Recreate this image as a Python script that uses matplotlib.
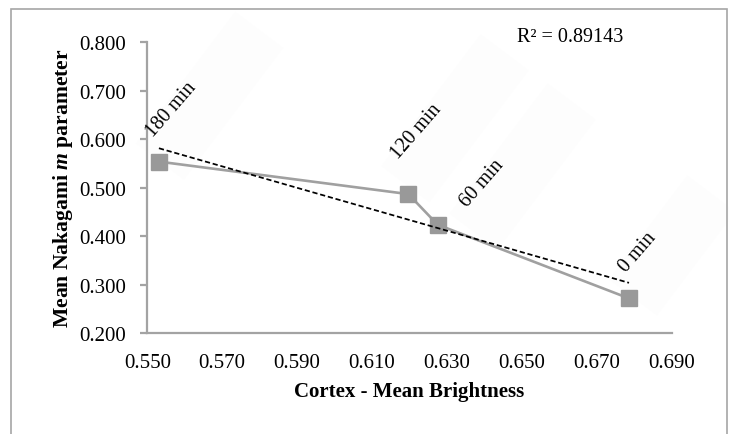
import numpy as np
import matplotlib
matplotlib.use("Agg")
import matplotlib.pyplot as plt
from matplotlib.patches import Polygon, Rectangle
from matplotlib.transforms import IdentityTransform

# Mean cortex brightness vs. mean Nakagami m parameter at each time point
brightness = [0.5531, 0.6197, 0.6275, 0.6786]
nakagami_m = [0.554, 0.487, 0.424, 0.272]
time_labels = ["180 min", "120 min", "60 min", "0 min"]
r2_text = "R\u00b2 = 0.89143"

x_ticks = [0.550, 0.570, 0.590, 0.610, 0.630, 0.650, 0.670, 0.690]
y_ticks = [0.200, 0.300, 0.400, 0.500, 0.600, 0.700, 0.800]

plt.rcParams["font.family"] = ["Liberation Serif", "DejaVu Serif"]
plt.rcParams["mathtext.fontset"] = "custom"
plt.rcParams["mathtext.rm"] = "Liberation Serif:bold"
plt.rcParams["mathtext.it"] = "Liberation Serif:italic:bold"

W, H, DPI = 729, 435, 100
fig = plt.figure(figsize=(W / DPI, H / DPI), dpi=DPI)
fig.patch.set_facecolor("white")

# axes placed in pixel units
ax_l, ax_r, ax_t, ax_b = 147.3, 671.7, 43.3, 334.3
ax = fig.add_axes([ax_l / W, 1 - ax_b / H, (ax_r - ax_l) / W, (ax_b - ax_t) / H])
ax.set_xlim(x_ticks[0], x_ticks[-1])
ax.set_ylim(y_ticks[0], y_ticks[-1])
ax.patch.set_alpha(0)

axis_gray = "#a3a3a3"
for side in ("top", "right"):
    ax.spines[side].set_visible(False)
for side in ("left", "bottom"):
    ax.spines[side].set_color(axis_gray)
    ax.spines[side].set_linewidth(1.6)

ax.set_xticks(x_ticks)
ax.set_yticks(y_ticks)
ax.set_xticklabels([f"{v:.3f}" for v in x_ticks])
ax.set_yticklabels([f"{v:.3f}" for v in y_ticks])
ax.tick_params(axis="x", length=0, pad=14, labelsize=15)
ax.tick_params(axis="y", length=5, width=1.6, color=axis_gray, direction="out",
               pad=10, labelsize=15)

# series line with square markers
ax.plot(brightness, nakagami_m, color="#a0a0a0", linewidth=1.9, marker="s",
        markersize=11, markerfacecolor="#999999", markeredgecolor="#999999",
        zorder=3, clip_on=False)

# linear trend line over the data range
coef = np.polyfit(brightness, nakagami_m, 1)
tx = np.array([min(brightness), max(brightness)])
ax.plot(tx, np.polyval(coef, tx), color="black", linewidth=1.25,
        linestyle=(0, (3.0, 1.6)), zorder=4, clip_on=False)

# data labels, offsets in pixels (x right, y up)
label_offsets = [(-6, 25), (-10, 35), (29, 18), (-3, 26)]
box_lengths = [165, 165, 163, 130]
text_angle = 49
box_angle = np.deg2rad(53)
u = np.array([np.cos(box_angle), np.sin(box_angle)])
n = np.array([-np.sin(box_angle), np.cos(box_angle)])

fig.canvas.draw()
for xv, yv, lab, (ox, oy), L in zip(brightness, nakagami_m, time_labels,
                                    label_offsets, box_lengths):
    px, py = ax.transData.transform((xv, yv))
    anchor = np.array([px + ox, py + oy])
    start = anchor + np.array([7, -25])
    corners = [start + 30 * n, start + 30 * n + L * u,
               start - 30 * n + L * u, start - 30 * n]
    fig.patches.append(Polygon(corners, closed=True, transform=IdentityTransform(),
                               facecolor="#fdfdfd", edgecolor="none", zorder=-1,
                               figure=fig))
    ax.annotate(lab, xy=(xv, yv), xytext=(ox, oy), textcoords="offset pixels",
                rotation=text_angle, rotation_mode="anchor", ha="left",
                va="baseline", fontsize=14.5, zorder=5, annotation_clip=False)

# axis titles
fig.text(409.5 / W, 1 - 392 / H, "Cortex - Mean Brightness", ha="center",
         va="center", fontsize=15, fontweight="bold")
fig.text(63 / W, 1 - 188.7 / H, r"Mean Nakagami $m$ parameter", ha="center",
         va="center", rotation=90, fontsize=15.6, fontweight="bold")

# R-squared of the trend line
fig.text(516.7 / W, 1 - 42.3 / H, r2_text, ha="left", va="baseline", fontsize=14.5)

# chart area border
fig.patches.append(Rectangle((11 / W, -0.1), (727 - 11) / W, 1.1 - 10 / H,
                             transform=fig.transFigure, fill=False,
                             edgecolor="#a6a6a6", linewidth=1.2, figure=fig,
                             zorder=-0.5))

fig.savefig("out.png", dpi=DPI, facecolor="white")
